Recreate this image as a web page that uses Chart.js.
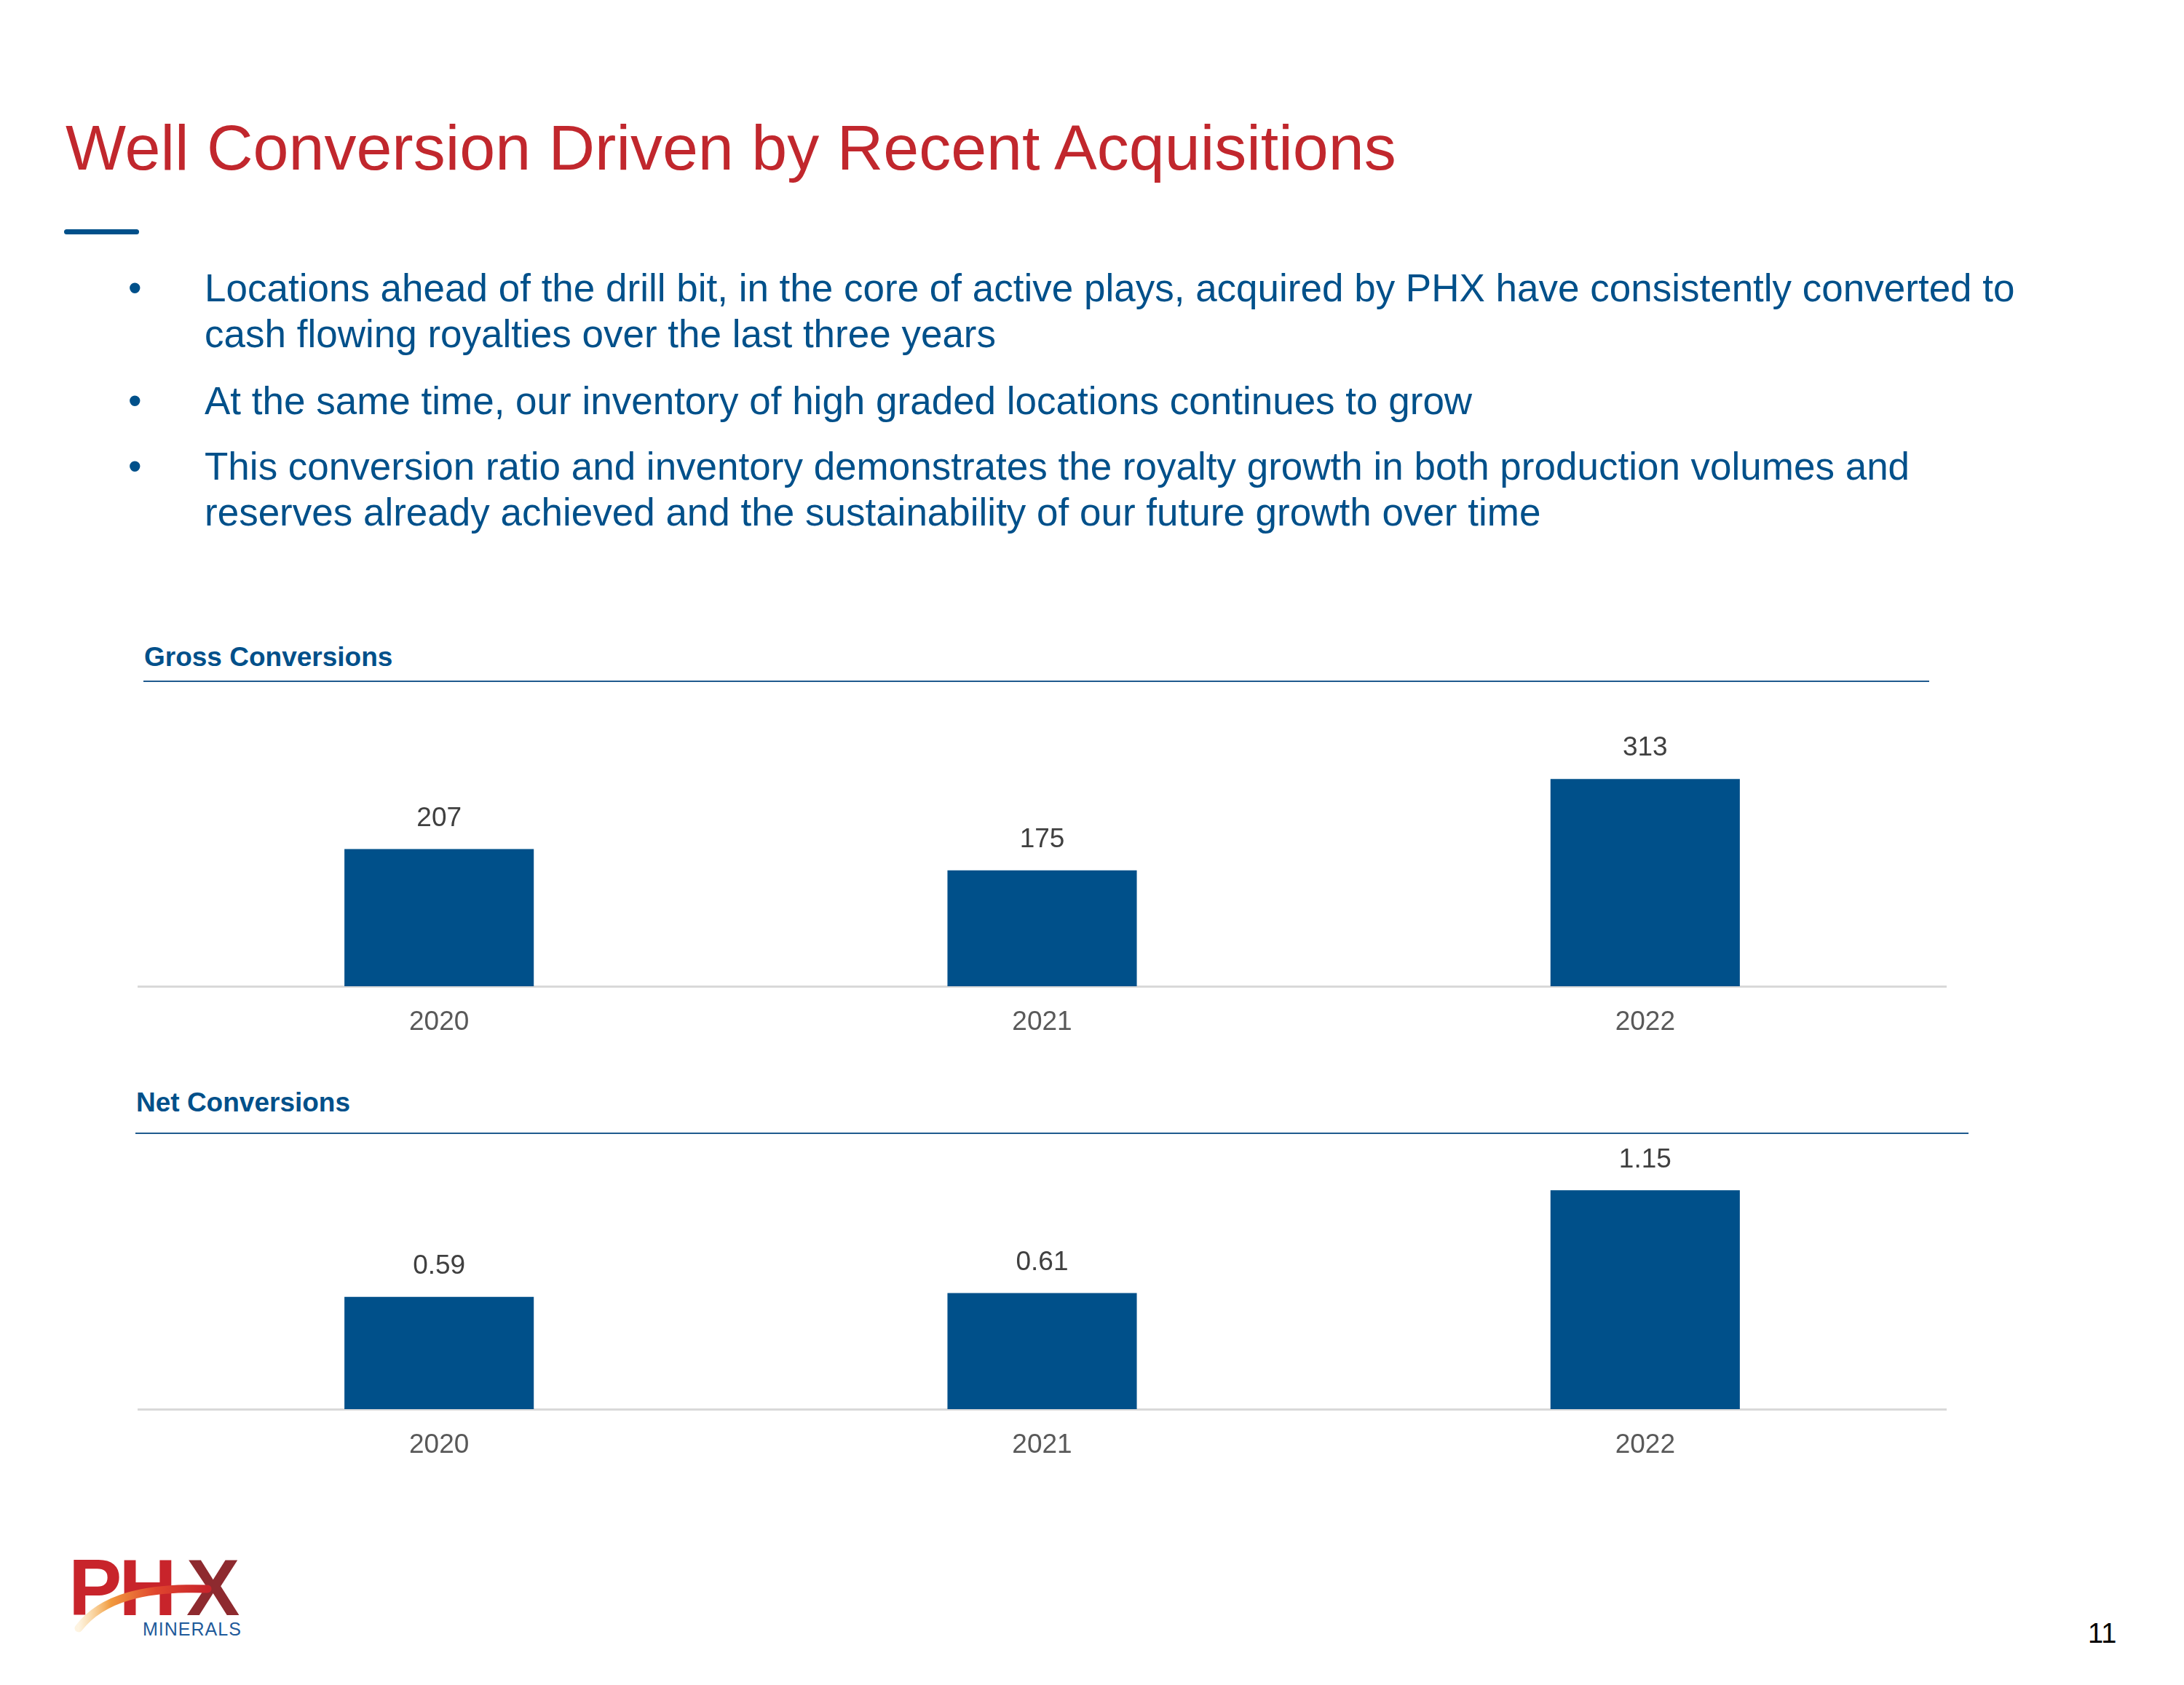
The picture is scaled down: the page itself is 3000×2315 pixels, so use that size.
<!DOCTYPE html>
<html>
<head>
<meta charset="utf-8">
<script src="https://cdn.jsdelivr.net/npm/chart.js@4.4.1/dist/chart.umd.min.js"></script>
<style>
  html, body { margin: 0; padding: 0; background: #ffffff; }
  body { width: 3000px; height: 2315px; position: relative; overflow: hidden; font-family: "Liberation Sans", Arial, sans-serif; }
  .abs { position: absolute; white-space: nowrap; }
  .title { left: 90px; top: 153px; font-size: 88px; line-height: 100px; color: #c1272d; }
  .accent { left: 88px; top: 315px; width: 103px; height: 7px; border-radius: 4px; background: #00508a; }
  .bl { font-size: 53px; line-height: 63px; color: #00508a; }
  .dot { font-size: 53px; line-height: 63px; color: #00508a; }
  .sec { font-size: 37px; line-height: 44px; font-weight: bold; color: #00508a; }
  .rule { height: 2px; background: #1f5a8e; }
  canvas { position: absolute; }
  .pnum { left: 2868px; top: 2222px; font-size: 38px; line-height: 44px; color: #000; }
</style>
</head>
<body>
<div class="abs title">Well Conversion Driven by Recent Acquisitions</div>
<div class="abs accent"></div>

<div class="abs dot" style="left:176px; top:364px;">•</div>
<div class="abs bl" style="left:281px; top:364px;">Locations ahead of the drill bit, in the core of active plays, acquired by PHX have consistently converted to</div>
<div class="abs bl" style="left:281px; top:427px;">cash flowing royalties over the last three years</div>
<div class="abs dot" style="left:176px; top:519px;">•</div>
<div class="abs bl" style="left:281px; top:519px;">At the same time, our inventory of high graded locations continues to grow</div>
<div class="abs dot" style="left:176px; top:609px;">•</div>
<div class="abs bl" style="left:281px; top:609px;">This conversion ratio and inventory demonstrates the royalty growth in both production volumes and</div>
<div class="abs bl" style="left:281px; top:672px;">reserves already achieved and the sustainability of our future growth over time</div>

<div class="abs sec" style="left:198px; top:881px;">Gross Conversions</div>
<div class="abs rule" style="left:197px; top:935px; width:2453px;"></div>
<canvas id="gross" width="2485" height="495" style="left:189px; top:960px;"></canvas>

<div class="abs sec" style="left:187px; top:1493px;">Net Conversions</div>
<div class="abs rule" style="left:186px; top:1556px; width:2518px;"></div>
<canvas id="net" width="2485" height="466" style="left:189px; top:1570px;"></canvas>

<svg class="abs" style="left:80px; top:2125px;" width="280" height="135" viewBox="0 0 280 135">
  <defs>
    <linearGradient id="sw" x1="0" y1="0" x2="1" y2="0">
      <stop offset="0" stop-color="#f7c66b" stop-opacity="0.2"/>
      <stop offset="0.25" stop-color="#f19a3e"/>
      <stop offset="0.6" stop-color="#e0452e"/>
      <stop offset="1" stop-color="#c8242b"/>
    </linearGradient>
  </defs>
  <text x="14" y="94" font-family="Liberation Sans, Arial, sans-serif" font-weight="bold" font-size="110" fill="#c8242b" letter-spacing="-4">PH</text>
  <text x="176" y="94" font-family="Liberation Sans, Arial, sans-serif" font-weight="bold" font-size="110" fill="#8e2a2f">X</text>
  <path d="M28 112 C 60 70, 120 55, 205 58" fill="none" stroke="url(#sw)" stroke-width="11" stroke-linecap="round"/>
  <text x="116" y="122" font-family="Liberation Sans, Arial, sans-serif" font-size="25" fill="#1f5a9a" letter-spacing="1">MINERALS</text>
</svg>

<div class="abs pnum">11</div>

<script>
// ---- data ----
const categories = ['2020', '2021', '2022'];
const grossValues = [207, 175, 313];
const netValues = [0.59, 0.61, 1.15];
const grossLabels = ['207', '175', '313'];
const netLabels = ['0.59', '0.61', '1.15'];

Chart.defaults.font.family = '"Liberation Sans", Arial, sans-serif';

const valueLabels = {
  id: 'valueLabels',
  afterDatasetsDraw(chart, args, opts) {
    const ctx = chart.ctx;
    const meta = chart.getDatasetMeta(0);
    ctx.save();
    ctx.font = '37px "Liberation Sans", Arial, sans-serif';
    ctx.fillStyle = '#404040';
    ctx.textAlign = 'center';
    ctx.textBaseline = 'middle';
    meta.data.forEach((bar, i) => {
      ctx.fillText(opts.labels[i], bar.x, bar.y - 42);
    });
    ctx.restore();
  }
};

function makeChart(id, values, labels, yMax) {
  return new Chart(document.getElementById(id), {
    type: 'bar',
    data: {
      labels: categories,
      datasets: [{
        data: values,
        backgroundColor: '#00508a',
        borderWidth: 0,
        categoryPercentage: 1.0,
        barPercentage: 0.314
      }]
    },
    options: {
      responsive: false,
      animation: false,
      devicePixelRatio: 1,
      layout: { padding: 0 },
      plugins: {
        legend: { display: false },
        tooltip: { enabled: false },
        valueLabels: { labels: labels }
      },
      scales: {
        x: {
          grid: { display: false, drawTicks: false },
          border: { display: true, color: '#d9d9d9', width: 3 },
          ticks: { color: '#595959', font: { size: 37 }, padding: 28 },
          afterFit: (s) => { s.height = 100; }
        },
        y: {
          display: false,
          min: 0,
          max: yMax
        }
      }
    },
    plugins: [valueLabels]
  });
}

makeChart('gross', grossValues, grossLabels, 434);
makeChart('net', netValues, netLabels, 1.40);
</script>
</body>
</html>
